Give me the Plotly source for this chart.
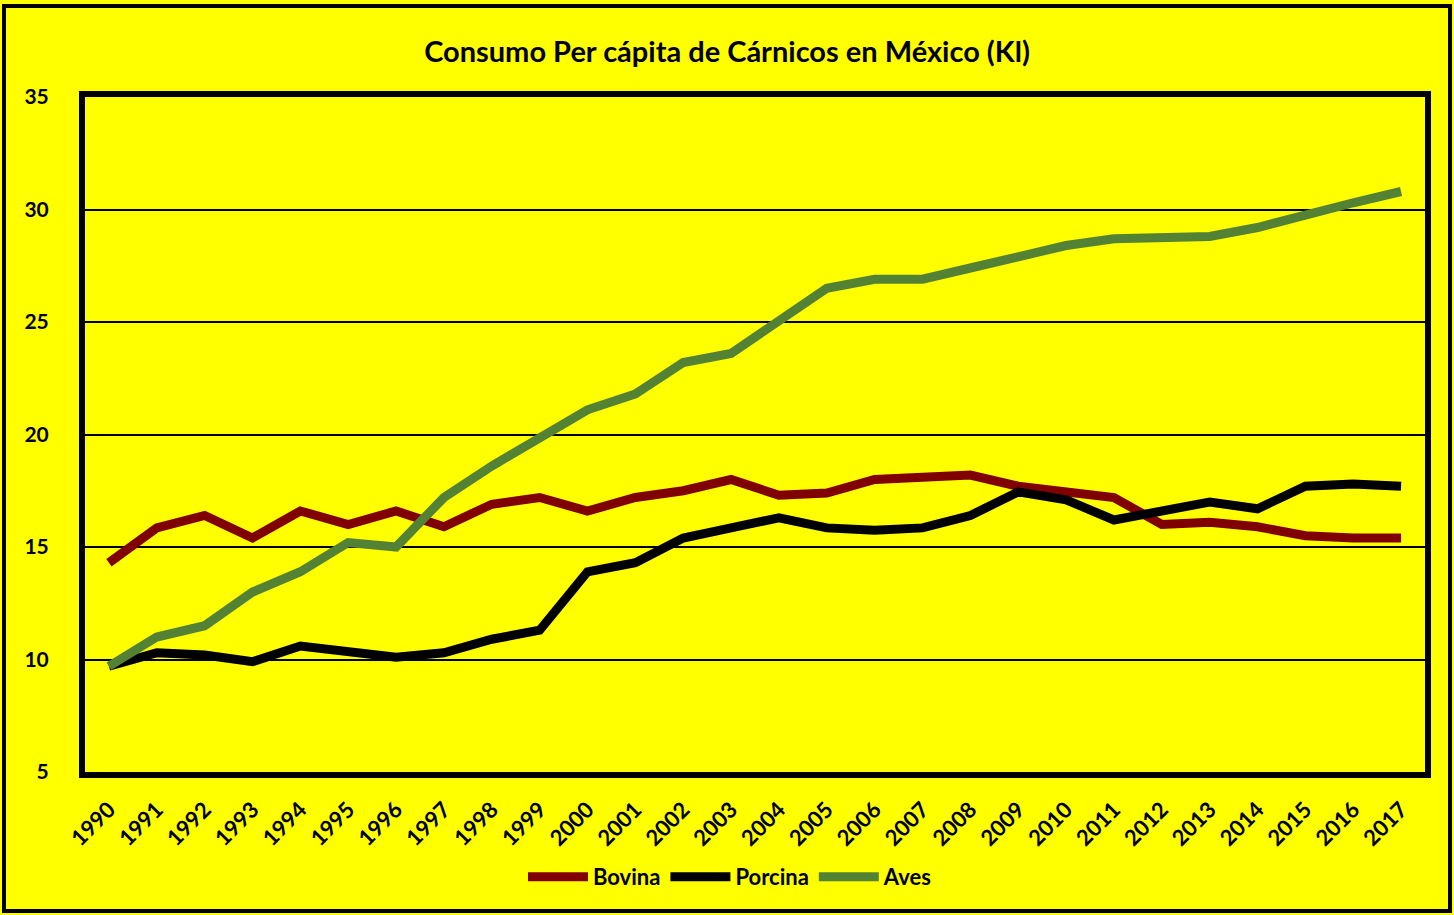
import plotly.graph_objects as go

years = [str(y) for y in range(1990, 2018)]
bovina = [14.3, 15.85, 16.4, 15.4, 16.6, 16.0, 16.6, 15.9, 16.9, 17.2,
          16.6, 17.2, 17.5, 18.0, 17.3, 17.4, 18.0, 18.1, 18.2, 17.7,
          17.45, 17.2, 16.0, 16.1, 15.9, 15.5, 15.4, 15.4]
porcina = [9.7, 10.3, 10.2, 9.9, 10.6, 10.4, 10.1, 10.3, 10.9, 11.3,
           13.9, 14.3, 15.4, 15.85, 16.3, 15.85, 15.75, 15.85, 16.4, 17.45,
           17.1, 16.2, 16.6, 17.0, 16.7, 17.7, 17.8, 17.7]
aves = [9.7, 11.0, 11.5, 13.0, 13.9, 15.2, 15.0, 17.2, 18.6, 19.9,
        21.1, 21.8, 23.2, 23.6, 25.1, 26.5, 26.9, 26.9, 27.4, 27.9,
        28.4, 28.7, 28.7, 28.8, 29.2, 29.8, 30.3, 30.8]

FONT = "Lato"
W, H = 1454, 915
L, R, T, B = 85, 29, 97, 143
pw, ph = W - L - R, H - T - B

fig = go.Figure()
for name, vals, col in [("Bovina", bovina, "#800000"),
                        ("Porcina", porcina, "#000000"),
                        ("Aves", aves, "#548235")]:
    fig.add_trace(go.Scatter(x=years, y=vals, name=name, mode="lines",
                             line=dict(color=col, width=9)))

fig.update_layout(
    width=W, height=H,
    margin=dict(l=L, r=R, t=T, b=B),
    paper_bgcolor="#FFFF00",
    plot_bgcolor="#FFFF00",
    title=dict(text="<b>Consumo Per cápita de Cárnicos en México (Kl)</b>",
               x=0.5, xref="container", y=1 - 52 / H, yref="container",
               xanchor="center", yanchor="middle",
               font=dict(family=FONT, size=29, color="black")),
    font=dict(family=FONT, color="black"),
    showlegend=True,
    legend=dict(orientation="h", x=(730 - L) / pw, xanchor="center",
                y=(H - 877 - B) / ph, yanchor="middle",
                font=dict(family=FONT, size=22, color="black", weight="bold"),
                bgcolor="rgba(0,0,0,0)", itemwidth=60, traceorder="normal"),
    shapes=[dict(type="rect", xref="paper", yref="paper",
                 x0=(4 - L) / pw, x1=(1450 - L) / pw,
                 y0=(H - B - 911) / ph, y1=(H - B - 6) / ph,
                 line=dict(color="black", width=4), fillcolor="rgba(0,0,0,0)",
                 layer="below")],
)

fig.update_xaxes(type="category", tickangle=-45, showgrid=False,
                 showline=True, linecolor="black", linewidth=6, mirror=True,
                 ticks="", tickfont=dict(family=FONT, size=22, color="black", weight="bold"),
                 ticklabelstandoff=10, range=[-0.5, 27.5])
fig.update_yaxes(range=[5, 35], dtick=5, tick0=5, showgrid=True,
                 gridcolor="black", gridwidth=2,
                 showline=True, linecolor="black", linewidth=6, mirror=True,
                 ticks="", zeroline=False,
                 tickfont=dict(family=FONT, size=21, color="black", weight="bold"),
                 ticklabelstandoff=26)

fig.write_html("out.html",
               config={"displayModeBar": False},
               post_script="document.body.style.margin='0';document.body.style.padding='0';")
